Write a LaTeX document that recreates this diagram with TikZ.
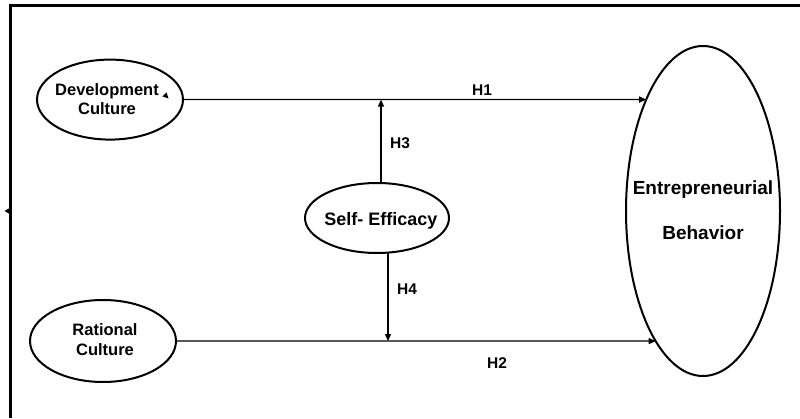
\documentclass[tikz,border=0pt]{standalone}
\usepackage{fontspec}
\setmainfont{Liberation Sans}
\usetikzlibrary{arrows.meta,shapes.geometric}
\begin{document}
\begin{tikzpicture}[x=1pt,y=1pt,
  oval/.style={draw,ellipse,line width=2pt,inner sep=0pt,outer sep=0pt},
  txt/.style={align=center,inner sep=0pt},
  arr/.style={line width=1.3pt,-{Triangle[length=7pt,width=6pt]}},
  lab/.style={font=\fontsize{15.5}{18}\selectfont\bfseries},
  frame/.style={line width=2.2pt},
  stray/.style={fill=black}]
\useasboundingbox (0,0) rectangle (800,418);
% frame
\draw[frame] (800,412.5) -- (10.5,412.5) -- (10.5,0);
% ellipses
\node[oval,minimum width=146pt,minimum height=80pt] (dev) at (110,318.4) {};
\node[oval,minimum width=146pt,minimum height=82pt] (rat) at (103,77) {};
\node[oval,minimum width=144pt,minimum height=70pt] (se) at (377,200) {};
\node[oval,minimum width=154pt,minimum height=330pt] (eb) at (703,207) {};
% texts
\node[txt,font=\fontsize{16.5}{19}\selectfont\bfseries] (devt) at (107,318.4) {Development\\Culture};
\node[txt,font=\fontsize{16.5}{20}\selectfont\bfseries] (ratt) at (105,78) {Rational\\Culture};
\node[txt,font=\fontsize{18}{21}\selectfont\bfseries] (set) at (381,197) {Self- Efficacy};
\node[txt,font=\fontsize{19}{45}\selectfont\bfseries] (ebt) at (703,207.5) {Entrepreneurial\\Behavior};
% connector points on paths
\coordinate (m1) at (381,318.4);
\coordinate (m2) at (388,77);
% connectors
\draw[arr] (dev.east) -- (eb.117);
\draw[arr] (rat.east) -- (eb.250);
\draw[arr] (se.north -| m1) -- (m1);
\draw[arr] (se.south -| m2) -- (m2);
% labels
\node[lab] (h1) at (482,328) {H1};
\node[lab] (h2) at (497,55) {H2};
\node[lab] (h3) at (400,275) {H3};
\node[lab] (h4) at (407,129) {H4};
% stray arrowheads
\fill[stray] (4.5,207) -- (10.5,210.5) -- (10.5,203.5) -- cycle;
\fill[stray] (168.5,319.5) -- (162.5,321.5) -- (166.5,325.5) -- cycle;
\end{tikzpicture}
\end{document}
